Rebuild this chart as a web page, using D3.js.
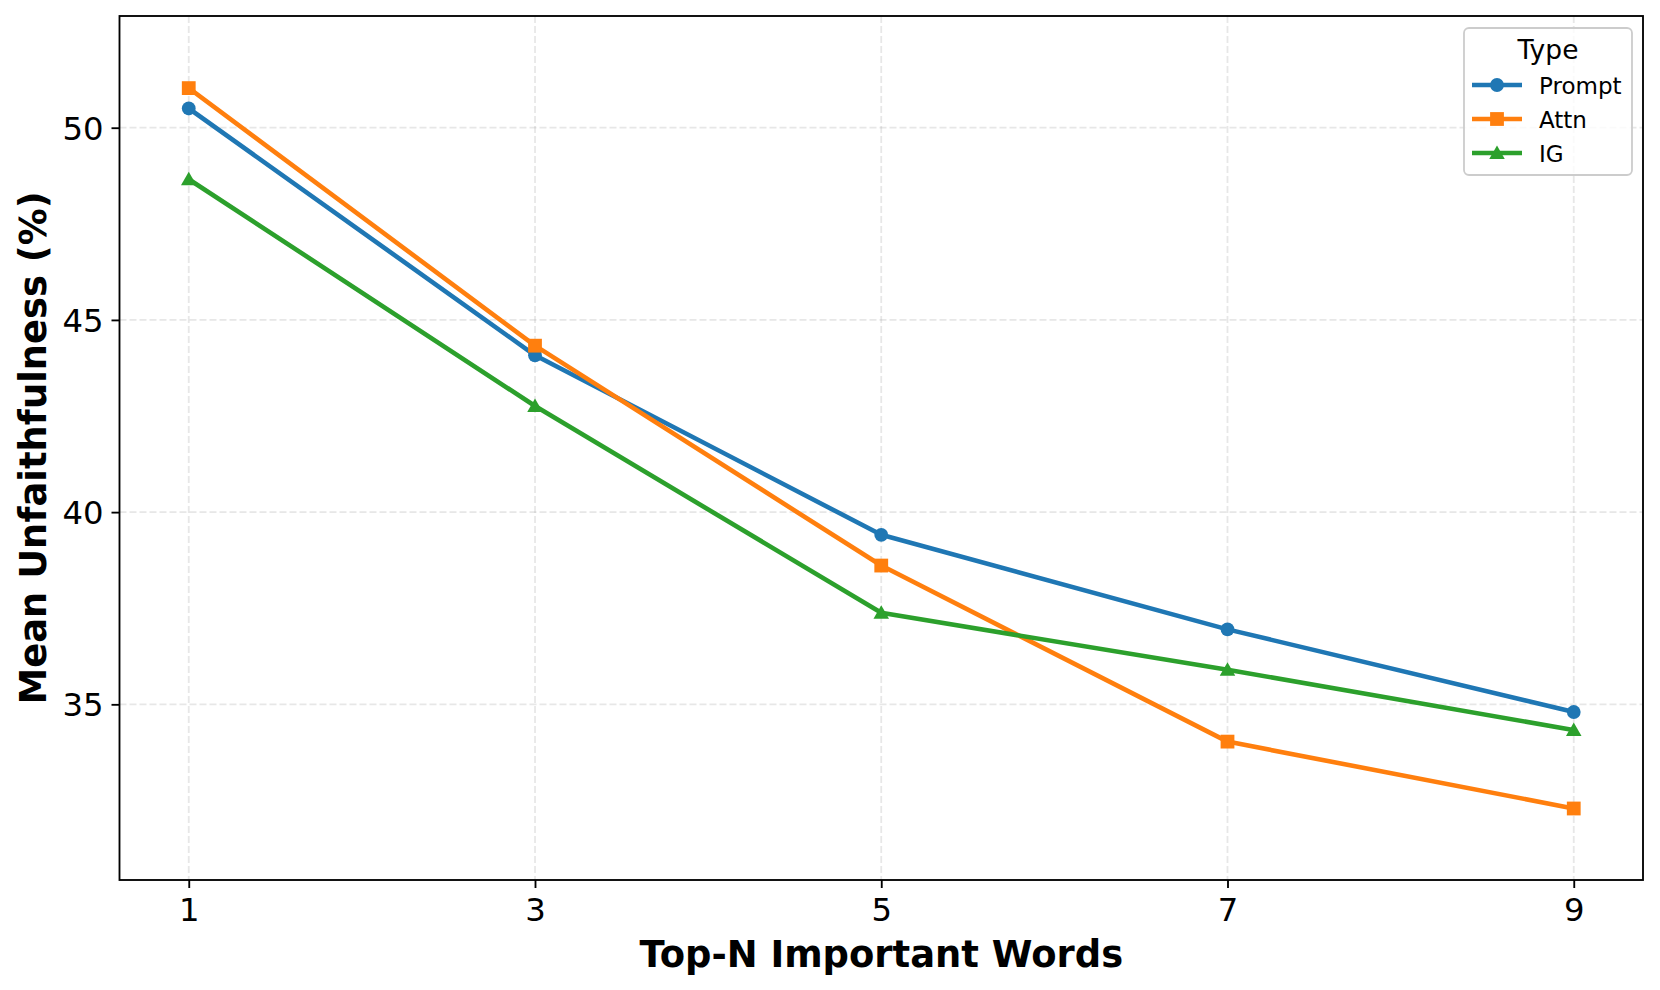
<!DOCTYPE html>
<html>
<head>
<meta charset="utf-8">
<script src="https://cdn.jsdelivr.net/npm/d3@7"></script>
<style>
  html, body { margin: 0; padding: 0; background: #fff; }
  svg { display: block; font-family: "DejaVu Sans", sans-serif; }
</style>
</head>
<body>
<svg id="chart" width="1660" height="990"></svg>
<script>
const topN = [1, 3, 5, 7, 9];
const promptVals = [50.50, 44.08, 39.41, 36.95, 34.80];
const attnVals   = [51.03, 44.33, 38.61, 34.03, 32.29];
const igVals     = [48.66, 42.76, 37.38, 35.90, 34.33];
const seriesNames = ["Prompt", "Attn", "IG"];
const seriesColors = ["#1f77b4", "#ff7f0e", "#2ca02c"];
const seriesShapes = ["circle", "square", "triangle"];
const xTicks = [1, 3, 5, 7, 9];
const yTicks = [35, 40, 45, 50];

const series = [promptVals, attnVals, igVals].map((vals, i) => ({
  name: seriesNames[i], color: seriesColors[i], shape: seriesShapes[i],
  points: topN.map((n, j) => ({ x: n, y: vals[j] }))
}));

const svg = d3.select("#chart");
const L = 119.5, R = 1643, T = 16, B = 880;
const x = d3.scaleLinear().domain([0.6, 9.4]).range([L, R]);
const y = d3.scaleLinear().domain([30.43, 52.906]).range([B, T]);

// grid
const grid = svg.append("g");
grid.selectAll(".gx").data(xTicks).enter().append("line")
  .attr("x1", d => x(d)).attr("x2", d => x(d)).attr("y1", T).attr("y2", B)
  .attr("stroke", "#b0b0b0").attr("stroke-opacity", 0.3).attr("stroke-width", 1.8)
  .attr("stroke-dasharray", "7,3");
grid.selectAll(".gy").data(yTicks).enter().append("line")
  .attr("y1", d => y(d)).attr("y2", d => y(d)).attr("x1", L).attr("x2", R)
  .attr("stroke", "#b0b0b0").attr("stroke-opacity", 0.3).attr("stroke-width", 1.8)
  .attr("stroke-dasharray", "7,3");

// axes
const xAxis = d3.axisBottom(x).tickValues(xTicks).tickSize(8).tickPadding(8).tickFormat(d3.format("d"));
const yAxis = d3.axisLeft(y).tickValues(yTicks).tickSize(8).tickPadding(8).tickFormat(d3.format("d"));
const gx = svg.append("g").attr("transform", `translate(0,${B})`).call(xAxis);
const gy = svg.append("g").attr("transform", `translate(${L},0)`).call(yAxis);
[gx, gy].forEach(g => {
  g.select(".domain").remove();
  g.selectAll(".tick line").attr("stroke", "#000").attr("stroke-width", 1.85);
  g.selectAll(".tick text").attr("fill", "#000").attr("font-size", "32.3px")
    .attr("font-family", "DejaVu Sans");
});
gx.selectAll(".tick text").attr("dy", null).attr("y", 41);
gy.selectAll(".tick text").attr("dy", "0.36em");

// lines
const line = d3.line().x(d => x(d.x)).y(d => y(d.y));
const plot = svg.append("g");
const symSize = { circle: 13.8 * 13.8 * Math.PI / 4, square: 13.8 * 13.8, triangle: 13.8 * 13.8 * 0.55 };
const symType = { circle: d3.symbolCircle, square: d3.symbolSquare, triangle: d3.symbolTriangle };

series.forEach(s => {
  plot.append("path").datum(s.points).attr("d", line)
    .attr("fill", "none").attr("stroke", s.color).attr("stroke-width", 4.6)
    .attr("stroke-linejoin", "round").attr("stroke-linecap", "square");
  plot.selectAll(null).data(s.points).enter().append("path")
    .attr("d", d3.symbol().type(symType[s.shape]).size(symSize[s.shape]))
    .attr("transform", d => `translate(${x(d.x)},${y(d.y) + (s.shape === "triangle" ? 1.5 : 0)})`)
    .attr("fill", s.color);
});

// frame
svg.append("rect").attr("x", L).attr("y", T).attr("width", R - L).attr("height", B - T)
  .attr("fill", "none").attr("stroke", "#000").attr("stroke-width", 1.85);

// axis labels
svg.append("text").attr("x", (L + R) / 2).attr("y", 967).attr("text-anchor", "middle")
  .attr("font-size", "36.9px").attr("font-weight", "bold").text("Top-N Important Words");
svg.append("text").attr("transform", `translate(46,${(T + B) / 2}) rotate(-90)`)
  .attr("text-anchor", "middle").attr("font-size", "36.9px").attr("font-weight", "bold")
  .text("Mean Unfaithfulness (%)");

// legend
const lg = svg.append("g");
lg.append("rect").attr("x", 1464).attr("y", 28).attr("width", 168).attr("height", 147)
  .attr("rx", 5).attr("fill", "#fff").attr("fill-opacity", 0.8)
  .attr("stroke", "#cccccc").attr("stroke-width", 1.8);
lg.append("text").attr("x", 1548).attr("y", 59).attr("text-anchor", "middle")
  .attr("font-size", "26.5px").text("Type");
series.forEach((s, i) => {
  const cy = 85 + i * 34;
  lg.append("line").attr("x1", 1472).attr("x2", 1522).attr("y1", cy).attr("y2", cy)
    .attr("stroke", s.color).attr("stroke-width", 4.6);
  lg.append("path").attr("d", d3.symbol().type(symType[s.shape]).size(symSize[s.shape]))
    .attr("transform", `translate(1497,${cy + (s.shape === "triangle" ? 1.5 : 0)})`)
    .attr("fill", s.color);
  lg.append("text").attr("x", 1539).attr("y", cy + 9).attr("font-size", "23px").text(s.name);
});
</script>
</body>
</html>
